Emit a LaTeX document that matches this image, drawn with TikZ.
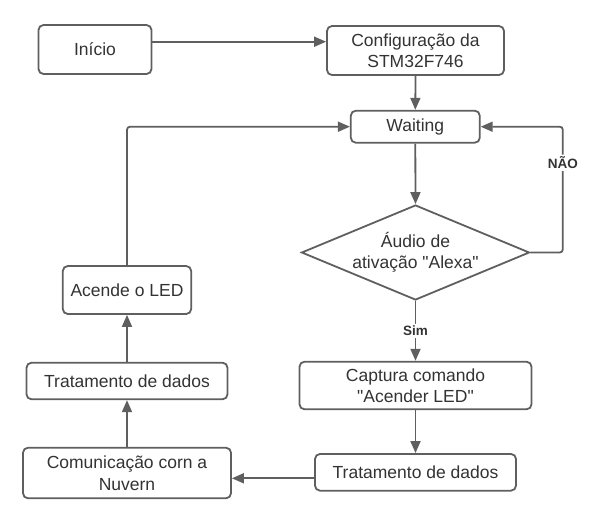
\documentclass[tikz,border=0pt]{standalone}
\usepackage{fontspec}
\setmainfont{Liberation Sans}
\usetikzlibrary{shapes.geometric}
\usetikzlibrary{arrows.meta}
\definecolor{linegray}{HTML}{5F5F5F}
\definecolor{txtgray}{HTML}{333333}

\begin{document}
\begin{tikzpicture}[x=1pt,y=-1pt,
    box/.style={draw=linegray,line width=1.8pt,rounded corners=5pt,fill=white,text=txtgray,
      align=center,inner sep=0pt,font=\fontsize{17.5}{21.5}\selectfont},
    decision/.style={diamond,draw=linegray,line width=1.8pt,fill=white,text=txtgray,
      align=center,inner sep=0pt,aspect=2.4,font=\fontsize{17.5}{21.5}\selectfont},
    arr/.style={draw=linegray,line width=1.8pt,rounded corners=3pt,
      -{Triangle[length=12pt,width=10pt]}},
    lbl/.style={fill=white,text=txtgray,inner sep=2pt,font=\fontsize{13.5}{16}\selectfont\bfseries}]
  \useasboundingbox (0,0) rectangle (603,520);
  % right column
  \node [box,minimum width=113pt,minimum height=49pt] (ini) at (95,49.5) {Início};
  \node [box,minimum width=177pt,minimum height=49pt] (cfg) at (415.5,50.5) {Configuração da\\STM32F746};
  \node [box,minimum width=129pt,minimum height=32pt] (wait) at (415.3,126.7) {Waiting};
  \node [decision,minimum width=228pt,minimum height=95pt] (dia) at (415.5,252.5) {Áudio de\\ativação \textquotedbl Alexa\textquotedbl};
  \node [box,minimum width=232pt,minimum height=47.6pt] (capt) at (415.5,385.5) {Captura comando\\\textquotedbl Acender LED\textquotedbl};
  \node [box,minimum width=201pt,minimum height=36.7pt] (tratR) at (415.5,472.3) {Tratamento de dados};
  % left column
  \node [box,minimum width=208pt,minimum height=50.6pt] (com) at (127,473) {Comunicação corn a\\Nuvern};
  \node [box,minimum width=201pt,minimum height=36.6pt] (tratL) at (127,381) {Tratamento de dados};
  \node [box,minimum width=128.4pt,minimum height=48pt] (led) at (127,290) {Acende o LED};
  % connectors
  \coordinate (s) at ([yshift=7.8pt]ini.east);
  \draw [arr] (s) -- (s -| cfg.west);
  \draw [arr] (cfg.south) -- (wait.north);
  \draw [arr] (wait.south) -- (dia.north);
  \draw [arr] (dia.east) -- ++(32.4,0) |- node [lbl,pos=0.357] {NÃO} (wait.east);
  \draw [arr] (dia.south) -- node [lbl] {Sim} (capt.north);
  \draw [arr] (capt.south) -- (tratR.north);
  \coordinate (t) at ([yshift=-6pt]tratR.west);
  \draw [arr] (t) -- (t -| com.east);
  \draw [arr] (com.north) -- (tratL.south);
  \draw [arr] (tratL.north) -- (led.south);
  \draw [arr] (led.north) |- (wait.west);
\end{tikzpicture}
\end{document}
